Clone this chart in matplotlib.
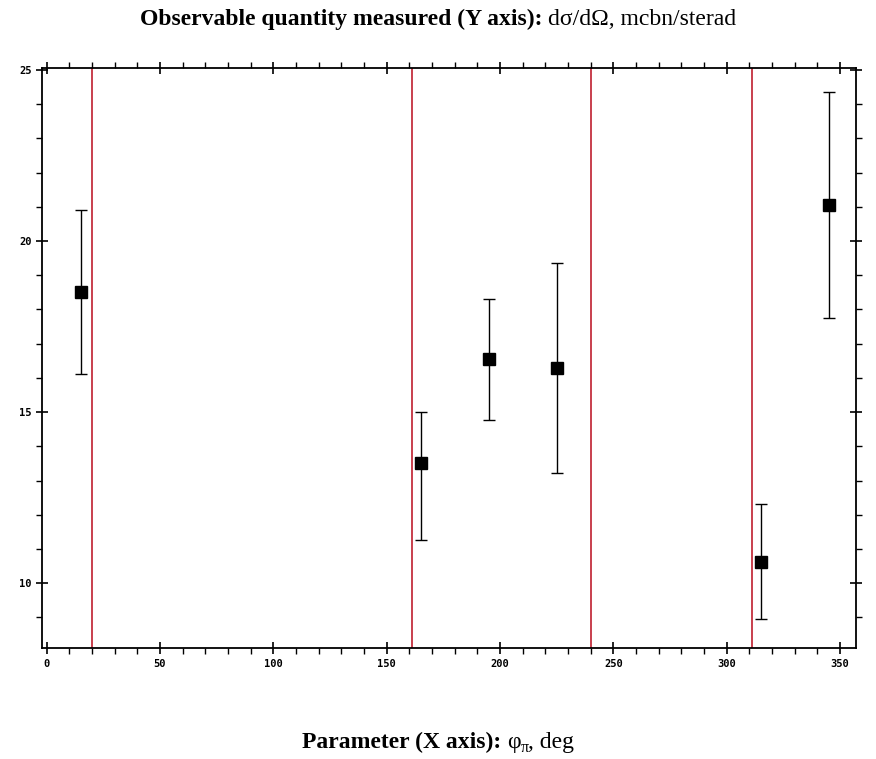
import matplotlib
matplotlib.use('Agg')
import matplotlib.pyplot as plt
from matplotlib.ticker import MultipleLocator

# ---------- data -------------------------------------------------------
phi = [15, 165, 195, 225, 315, 345]
dsig = [18.5, 13.5, 16.55, 16.3, 10.62, 21.05]
err_lo = [2.4, 2.25, 1.77, 3.07, 1.68, 3.3]
err_hi = [2.4, 1.5, 1.77, 3.07, 1.68, 3.3]
bin_edges = [20, 161, 240, 311]

x_major = [0, 50, 100, 150, 200, 250, 300, 350]
y_major = [10, 15, 20, 25]

SERIF = ['Liberation Serif', 'DejaVu Serif']


def text_row(fig, y, pieces, xc=0.5):
    # pieces: (text, weight, size, dy_px) placed left to right, centred at xc
    fig.canvas.draw()
    r = fig.canvas.get_renderer()
    W = fig.bbox.width
    objs = []
    total = 0.0
    for s, w, size, dy in pieces:
        t = fig.text(0, y + dy / fig.bbox.height, s, fontsize=size, fontweight=w,
                     family=SERIF, va='baseline', ha='left')
        width = t.get_window_extent(renderer=r).width / W
        objs.append((t, width))
        total += width
    x = xc - total / 2
    for t, width in objs:
        t.set_x(x)
        x += width


fig = plt.figure(figsize=(8.76, 7.59), dpi=100)
ax = fig.add_axes([0.048, 0.146, 0.929, 0.764])

for e in bin_edges:
    ax.axvline(e, color='#c4303f', lw=1.3, zorder=1)

ax.errorbar(phi, dsig, yerr=[err_lo, err_hi], fmt='s', color='black', ms=8.5,
            ecolor='black', elinewidth=1.0, capsize=4, capthick=1.0, zorder=3)

ax.set_xlim(-2, 357)
ax.set_ylim(8.1, 25.05)
ax.set_xticks(x_major)
ax.set_yticks(y_major)
ax.xaxis.set_minor_locator(MultipleLocator(10))
ax.yaxis.set_minor_locator(MultipleLocator(1))

ax.tick_params(which='major', direction='inout', length=9, width=1.2,
               top=True, right=True, labelsize=7.5, pad=3)
ax.tick_params(which='minor', direction='out', length=4, width=1.0,
               top=True, right=True)
for lab in ax.get_xticklabels() + ax.get_yticklabels():
    lab.set_family('DejaVu Sans Mono')
    lab.set_fontweight('bold')
for sp in ax.spines.values():
    sp.set_linewidth(1.3)

text_row(fig, 1 - 25 / 759, [
    ('Observable quantity measured (Y axis): ', 'bold', 17, 0),
    ('d\u03c3/d\u03a9, mcbn/sterad', 'normal', 17, 0),
])
text_row(fig, 1 - 748 / 759, [
    ('Parameter (X axis): ', 'bold', 17, 0),
    ('\u03c6', 'normal', 17, 0),
    ('\u03c0', 'normal', 11.5, -4),
    (', deg', 'normal', 17, 0),
])

fig.savefig('out.png', dpi=100)
